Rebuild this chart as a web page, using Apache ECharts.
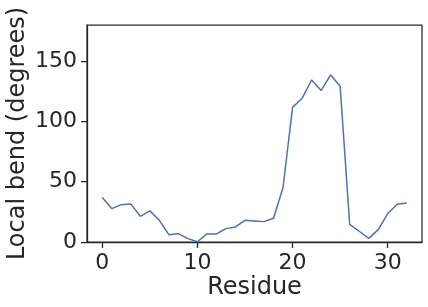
<!DOCTYPE html>
<html><head><meta charset="utf-8">
<script src="https://cdn.jsdelivr.net/npm/echarts@6/dist/echarts.min.js"></script>
<style>html,body{margin:0;padding:0;background:#fff}#c{width:428px;height:307px}</style>
</head><body><div id="c"></div>
<script>
const residues = [0,1,2,3,4,5,6,7,8,9,10,11,12,13,14,15,16,17,18,19,20,21,22,23,24,25,26,27,28,29,30,31,32];
const bend = [37,27.7,31,31.6,21.3,25.8,18,6.1,6.9,2.8,0.2,6.7,6.7,11.1,12.5,18,17.5,16.9,19.7,45.2,111.7,119.2,134.4,125.6,138.6,129.2,14.7,8.9,3,10.3,23.6,31.3,32.4];
const xTicks = [0,10,20,30];
const yTicks = [0,50,100,150];
const FONT = 'DejaVu Sans';
const TXT = '#262626';
const chart = echarts.init(document.getElementById('c'), null, {renderer:'canvas'});
chart.setOption({
  animation:false,
  grid:{left:87,right:6,top:25,bottom:65,show:true,borderColor:TXT,borderWidth:1.25,backgroundColor:'transparent',
    containLabel:false,outerBoundsMode:'none'},
  xAxis:{type:'value',min:-1.6,max:33.6,name:'Residue',nameLocation:'middle',nameGap:34,nameMoveOverlap:false,
    nameTextStyle:{fontFamily:FONT,fontSize:24,color:TXT},
    axisLine:{show:true,onZero:false,lineStyle:{color:TXT,width:1.25}},
    axisTick:{show:true,length:6,lineStyle:{color:TXT,width:1.25},customValues:xTicks},
    axisLabel:{fontFamily:FONT,fontSize:22,color:TXT,margin:10,customValues:xTicks},
    splitLine:{show:false}},
  yAxis:{type:'value',min:0,max:180,name:'Local bend (degrees)',nameLocation:'middle',nameGap:57,nameMoveOverlap:false,
    nameTextStyle:{fontFamily:FONT,fontSize:24,color:TXT},
    axisLine:{show:true,onZero:false,lineStyle:{color:TXT,width:1.25}},
    axisTick:{show:true,length:6,lineStyle:{color:TXT,width:1.25},customValues:yTicks},
    axisLabel:{fontFamily:FONT,fontSize:22,color:TXT,margin:10,customValues:yTicks},
    splitLine:{show:false}},
  series:[{type:'line',data:residues.map((r,i)=>[r,bend[i]]),showSymbol:false,symbol:'none',
    lineStyle:{color:'#4c72b0',width:1.5},clip:true}]
});
</script></body></html>
